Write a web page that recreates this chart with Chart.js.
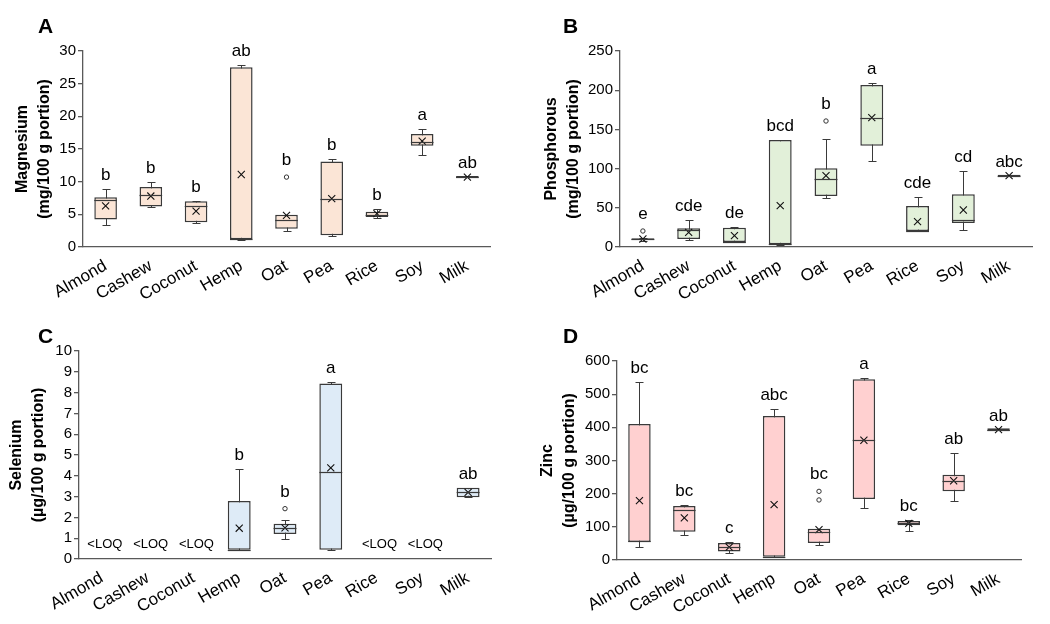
<!DOCTYPE html>
<html>
<head>
<meta charset="utf-8">
<script src="https://cdn.jsdelivr.net/npm/chart.js@4.4.1/dist/chart.umd.min.js"></script>
<style>
  html, body { margin: 0; padding: 0; background: #fff; }
  #wrap { position: relative; width: 1050px; height: 624px; }
  .panel { position: absolute; width: 525px; height: 312px; }
  .tag { position: absolute; font: bold 21px "Liberation Sans", Arial, sans-serif; color: #000; line-height: 1; }
</style>
</head>
<body>
<div id="wrap">
  <div class="panel" style="left:0;top:0"><canvas id="chartA" width="525" height="312"></canvas></div>
  <div class="panel" style="left:525px;top:0"><canvas id="chartB" width="525" height="312"></canvas></div>
  <div class="panel" style="left:0;top:312px"><canvas id="chartC" width="525" height="312"></canvas></div>
  <div class="panel" style="left:525px;top:312px"><canvas id="chartD" width="525" height="312"></canvas></div>
  <div class="tag" style="left:38px;top:15px">A</div>
  <div class="tag" style="left:563px;top:15px">B</div>
  <div class="tag" style="left:38px;top:325px">C</div>
  <div class="tag" style="left:563px;top:325px">D</div>
</div>
<script>
// 类别
const categories = ['Almond', 'Cashew', 'Coconut', 'Hemp', 'Oat', 'Pea', 'Rice', 'Soy', 'Milk'];

// A — Magnesium (mg/100 g)
const mgMin = [3.3, 6.1, 3.7, 1.1, 2.5, 1.7, 4.4, 14.1, 10.7];
const mgQ1 = [4.2, 6.2, 3.8, 1.2, 2.8, 1.8, 4.6, 15.5, 10.55];
const mgMed = [7.2, 7.9, 6.3, 1.2, 4.2, 7.3, 4.95, 16.0, 10.7];
const mgQ3 = [7.6, 9.2, 7.0, 27.5, 4.95, 13.1, 5.4, 17.3, 10.85];
const mgMax = [8.9, 9.9, 7.1, 27.8, 4.95, 13.4, 5.8, 18.1, 10.7];
const mgMean = [6.3, 7.8, 5.5, 11.1, 4.85, 7.4, 5.1, 16.2, 10.7];
const mgOut = [[], [], [], [], [10.7], [], [], [], []];
const mgLetters = ['b', 'b', 'b', 'ab', 'b', 'b', 'b', 'a', 'ab'];

// B — Phosphorous (mg/100 g)
const pMin = [8, 8.5, 6, 2.6, 63, 110, 20, 22, 91];
const pQ1 = [8.8, 10.2, 6.4, 3.4, 65, 129.3, 20.4, 30.6, 89.8];
const pMed = [10, 21.7, 7, 4, 87.2, 164.5, 21, 34.9, 91];
const pQ3 = [11.2, 23.8, 24.7, 136.5, 100.3, 206.6, 52.3, 67.2, 92.2];
const pMax = [11.5, 34.9, 26, 137, 137.8, 208.8, 63.4, 96.5, 91];
const pMean = [10.2, 18.7, 14.5, 52.7, 91, 165, 32.3, 47.2, 91];
const pOut = [[20.4], [], [], [], [160.7], [], [], [], []];
const pLetters = ['e', 'cde', 'de', 'bcd', 'b', 'a', 'cde', 'cd', 'abc'];

// C — Selenium (µg/100 g), null = <LOQ
const seMin = [null, null, null, 0.45, 0.95, 0.45, null, null, 2.97];
const seQ1 = [null, null, null, 0.45, 1.2, 0.45, null, null, 2.97];
const seMed = [null, null, null, 0.45, 1.49, 4.16, null, null, 3.21];
const seQ3 = [null, null, null, 2.79, 1.69, 8.44, null, null, 3.43];
const seMax = [null, null, null, 4.32, 1.88, 8.52, null, null, 3.43];
const seMean = [null, null, null, 1.48, 1.5, 4.38, null, null, 3.2];
const seOut = [[], [], [], [], [2.42], [], [], [], []];
const seLetters = ['', '', '', 'b', 'b', 'a', '', '', 'ab'];
const seLoq = ['<LOQ', '<LOQ', '<LOQ', '', '', '', '<LOQ', '<LOQ', ''];

// D — Zinc (µg/100 g)
const znMin = [39, 75, 20, 8, 44, 158, 88, 179, 393];
const znQ1 = [54, 85, 26, 10, 51, 184, 104.5, 207, 389];
const znMed = [58, 151, 40, 10, 83, 362, 111.6, 239, 393];
const znQ3 = [410, 163, 51, 434, 94.5, 545, 117.6, 257, 397];
const znMax = [538, 165, 53, 456, 94.5, 550, 120.6, 322, 393];
const znMean = [179, 127, 39, 167, 91.5, 361, 110.6, 239, 393];
const znOut = [[], [], [], [], [207, 181], [], [], [], []];
const znLetters = ['bc', 'bc', 'c', 'abc', 'bc', 'a', 'bc', 'ab', 'ab'];

const FONT = '"Liberation Sans", Arial, sans-serif';
const LINE = '#3a3a3a';
const AXIS = '#595959';

// 须线、中位线、显著性字母、<LOQ 文本
const boxPlotPlugin = {
  id: 'boxPlot',
  beforeDatasetsDraw(chart, args, o) {
    const { ctx } = chart;
    const x = chart.scales.x, y = chart.scales.y;
    ctx.save();
    ctx.strokeStyle = LINE;
    ctx.lineWidth = 1;
    o.mins.forEach((lo, i) => {
      if (lo == null) return;
      const cx = Math.round(x.getPixelForValue(i)) + 0.5;
      const y0 = Math.round(y.getPixelForValue(lo)) + 0.5;
      const y1 = Math.round(y.getPixelForValue(o.maxs[i])) + 0.5;
      ctx.beginPath();
      ctx.moveTo(cx, y0); ctx.lineTo(cx, y1);
      ctx.moveTo(cx - 4, y0); ctx.lineTo(cx + 4, y0);
      ctx.moveTo(cx - 4, y1); ctx.lineTo(cx + 4, y1);
      ctx.stroke();
    });
    ctx.restore();
  },
  afterDatasetsDraw(chart, args, o) {
    const { ctx } = chart;
    const x = chart.scales.x, y = chart.scales.y;
    const bars = chart.getDatasetMeta(0).data;
    ctx.save();
    // 中位线
    ctx.strokeStyle = LINE;
    ctx.lineWidth = 1.2;
    o.medians.forEach((m, i) => {
      if (m == null) return;
      const cx = x.getPixelForValue(i);
      const half = bars[i].width / 2;
      const py = Math.round(y.getPixelForValue(m)) + 0.5;
      ctx.beginPath();
      ctx.moveTo(cx - half, py); ctx.lineTo(cx + half, py);
      ctx.stroke();
    });
    // 字母
    ctx.fillStyle = '#000';
    ctx.textAlign = 'center';
    ctx.textBaseline = 'alphabetic';
    ctx.font = `17px ${FONT}`;
    o.letters.forEach((t, i) => {
      if (!t) return;
      const tops = [o.maxs[i], ...o.outliers[i]];
      const topVal = Math.max(...tops);
      const extra = o.outliers[i].length ? 3 : 0;
      ctx.fillText(t, x.getPixelForValue(i), y.getPixelForValue(topVal) - 9 - extra);
    });
    // <LOQ
    if (o.loq) {
      ctx.font = `13px ${FONT}`;
      ctx.textBaseline = 'middle';
      o.loq.forEach((t, i) => {
        if (!t) return;
        ctx.fillText(t, x.getPixelForValue(i) + 3, y.getPixelForValue(o.loqAt));
      });
    }
    ctx.restore();
  }
};

function renderBoxChart(canvasId, cfg) {
  const ctx = document.getElementById(canvasId);
  if (!ctx) return;

  const outlierPts = [];
  cfg.outliers.forEach((arr, i) => arr.forEach(v => outlierPts.push({ x: categories[i], y: v })));

  return new Chart(ctx, {
    type: 'bar',
    data: {
      labels: categories,
      datasets: [
        {
          type: 'bar',
          order: 3,
          data: cfg.q1.map((q, i) => (q == null ? null : [q, cfg.q3[i]])),
          backgroundColor: cfg.fill,
          borderColor: LINE,
          borderWidth: 1.5,
          borderSkipped: false,
          barPercentage: 0.5,
          categoryPercentage: 1
        },
        {
          type: 'line',
          order: 1,
          data: cfg.means,
          showLine: false,
          pointStyle: 'crossRot',
          pointRadius: 5,
          pointBorderColor: '#111',
          pointBorderWidth: 1.1
        },
        {
          type: 'line',
          order: 0,
          data: outlierPts,
          showLine: false,
          pointStyle: 'circle',
          pointRadius: 2.2,
          pointBackgroundColor: '#fff',
          pointBorderColor: '#333',
          pointBorderWidth: 1
        }
      ]
    },
    options: {
      responsive: false,
      animation: false,
      layout: { padding: { top: cfg.top, right: cfg.right, left: 0, bottom: 0 } },
      plugins: {
        legend: { display: false },
        tooltip: { enabled: false },
        boxPlot: {
          mins: cfg.mins, maxs: cfg.maxs, medians: cfg.medians,
          letters: cfg.letters, outliers: cfg.outliers,
          loq: cfg.loq, loqAt: cfg.loqAt
        }
      },
      scales: {
        x: {
          grid: { display: false },
          border: { display: true, color: AXIS, width: 1.3 },
          ticks: {
            color: '#000',
            font: { size: 17, family: FONT },
            minRotation: 30,
            maxRotation: 30,
            autoSkip: false,
            padding: 1
          },
          afterFit(scale) { scale.height = cfg.xh; }
        },
        y: {
          min: 0,
          max: cfg.max,
          grid: { drawOnChartArea: false, drawTicks: true, tickLength: 5, color: AXIS, lineWidth: 1.3 },
          border: { display: true, color: AXIS, width: 1.3 },
          ticks: {
            stepSize: cfg.step,
            autoSkip: false,
            color: '#000',
            font: { size: 15, family: FONT },
            padding: 2
          },
          title: {
            display: true,
            text: cfg.title,
            color: '#000',
            font: { size: 16, weight: 'bold', family: FONT, lineHeight: 1.35 },
            padding: { top: cfg.titlePad, bottom: 0 }
          },
          afterFit(scale) { scale.width = cfg.yw; }
        }
      }
    },
    plugins: [boxPlotPlugin]
  });
}

renderBoxChart('chartA', {
  fill: '#fbe5d6', max: 30, step: 5,
  title: ['Magnesium', '(mg/100 g portion)'],
  mins: mgMin, q1: mgQ1, medians: mgMed, q3: mgQ3, maxs: mgMax, means: mgMean,
  outliers: mgOut, letters: mgLetters,
  top: 51, right: 35, yw: 83, xh: 65, titlePad: 12
});

renderBoxChart('chartB', {
  fill: '#e2f0d9', max: 250, step: 50,
  title: ['Phosphorous', '(mg/100 g portion)'],
  mins: pMin, q1: pQ1, medians: pMed, q3: pQ3, maxs: pMax, means: pMean,
  outliers: pOut, letters: pLetters,
  top: 51, right: 18, yw: 95, xh: 65, titlePad: 16
});

renderBoxChart('chartC', {
  fill: '#deebf7', max: 10, step: 1,
  title: ['Selenium', '(µg/100 g portion)'],
  mins: seMin, q1: seQ1, medians: seMed, q3: seQ3, maxs: seMax, means: seMean,
  outliers: seOut, letters: seLetters, loq: seLoq, loqAt: 0.7,
  top: 39, right: 34, yw: 79, xh: 65, titlePad: 6
});

renderBoxChart('chartD', {
  fill: '#ffd0d0', max: 600, step: 100,
  title: ['Zinc', '(µg/100 g portion)'],
  mins: znMin, q1: znQ1, medians: znMed, q3: znQ3, maxs: znMax, means: znMean,
  outliers: znOut, letters: znLetters,
  top: 49, right: 29, yw: 92, xh: 64, titlePad: 12
});
</script>
</body>
</html>
